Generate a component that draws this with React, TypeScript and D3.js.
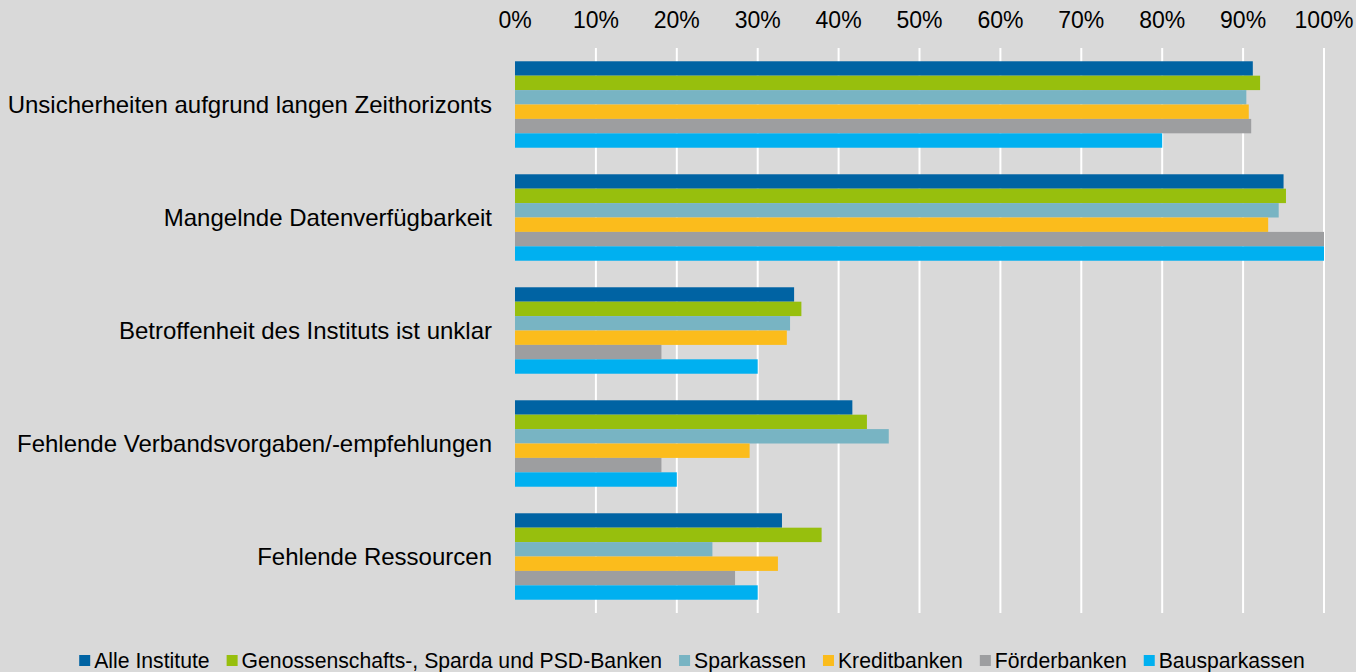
import React from "react";
import * as d3 from "d3";

const categories = [
  "Unsicherheiten aufgrund langen Zeithorizonts",
  "Mangelnde Datenverfügbarkeit",
  "Betroffenheit des Instituts ist unklar",
  "Fehlende Verbandsvorgaben/-empfehlungen",
  "Fehlende Ressourcen",
];
const seriesNames = [
  "Alle Institute",
  "Genossenschafts-, Sparda und PSD-Banken",
  "Sparkassen",
  "Kreditbanken",
  "Förderbanken",
  "Bausparkassen",
];
const seriesColors = ["#0063A3", "#97BF0D", "#78B4C3", "#FBBC1C", "#9D9EA0", "#00B0F0"];
const alleInstitute = [0.912, 0.95, 0.345, 0.417, 0.33];
const genossenschaft = [0.921, 0.953, 0.354, 0.435, 0.379];
const sparkassen = [0.904, 0.944, 0.34, 0.462, 0.244];
const kreditbanken = [0.907, 0.931, 0.336, 0.29, 0.325];
const foerderbanken = [0.91, 1.0, 0.181, 0.181, 0.272];
const bausparkassen = [0.8, 1.0, 0.3, 0.2, 0.3];
const seriesValues = [alleInstitute, genossenschaft, sparkassen, kreditbanken, foerderbanken, bausparkassen];
const ticks = [0, 0.1, 0.2, 0.3, 0.4, 0.5, 0.6, 0.7, 0.8, 0.9, 1.0];

const W = 1356;
const H = 672;
const FONT = "'Liberation Sans', Arial, sans-serif";

export default function App() {
  const x = d3.scaleLinear().domain([0, 1]).range([515, 1324]);
  const y = d3.scaleBand<string>().domain(categories).range([48, 613]).paddingInner(0.235).paddingOuter(0.1175);
  const ySub = d3.scaleBand<number>().domain(d3.range(seriesNames.length)).range([0, y.bandwidth()]);
  const fmt = d3.format(".0%");

  // legend layout
  const legendFont = 21.2;
  const sq = 11;
  const gapSqText = 4;
  const itemGap = 17;
  const measure = (t: string) => {
    if (typeof document === "undefined") return t.length * 10;
    const c = (measure as any).c || ((measure as any).c = document.createElement("canvas"));
    const ctx = c.getContext("2d");
    ctx.font = `${legendFont}px 'Liberation Sans', Arial, sans-serif`;
    return ctx.measureText(t).width;
  };
  const widths = seriesNames.map((s) => sq + gapSqText + measure(s));
  const total = d3.sum(widths) + itemGap * (seriesNames.length - 1);
  let lx = 692 - total / 2;
  const legendItems = seriesNames.map((s, i) => {
    const item = { name: s, x: lx, color: seriesColors[i] };
    lx += widths[i] + itemGap;
    return item;
  });

  return (
    <svg width={W} height={H} style={{ position: "absolute", left: 0, top: 0, background: "#D9D9D9" }}>
      <rect x={0} y={0} width={W} height={H} fill="#D9D9D9" />
      {ticks.map((t) => (
        <g key={t}>
          {t > 0 && (
            <line x1={x(t)} x2={x(t)} y1={48} y2={613} stroke="#FFFFFF" strokeWidth={2} />
          )}
          <text x={x(t)} y={28} textAnchor="middle" fontFamily={FONT} fontSize={23} fill="#000">
            {fmt(t)}
          </text>
        </g>
      ))}
      {categories.map((c, ci) => (
        <g key={c} transform={`translate(0,${y(c)})`}>
          {seriesValues.map((vals, si) => (
            <rect
              key={si}
              x={x(0)}
              y={ySub(si)}
              width={x(vals[ci]) - x(0)}
              height={ySub.bandwidth()}
              fill={seriesColors[si]}
            />
          ))}
          <text
            x={492}
            y={y.bandwidth() / 2}
            dy="0.35em"
            textAnchor="end"
            fontFamily={FONT}
            fontSize={24}
            fill="#000"
          >
            {c}
          </text>
        </g>
      ))}
      {legendItems.map((it) => (
        <g key={it.name}>
          <rect x={it.x} y={655} width={sq} height={sq} fill={it.color} />
          <text x={it.x + sq + gapSqText} y={668} fontFamily={FONT} fontSize={legendFont} fill="#000">
            {it.name}
          </text>
        </g>
      ))}
    </svg>
  );
}
